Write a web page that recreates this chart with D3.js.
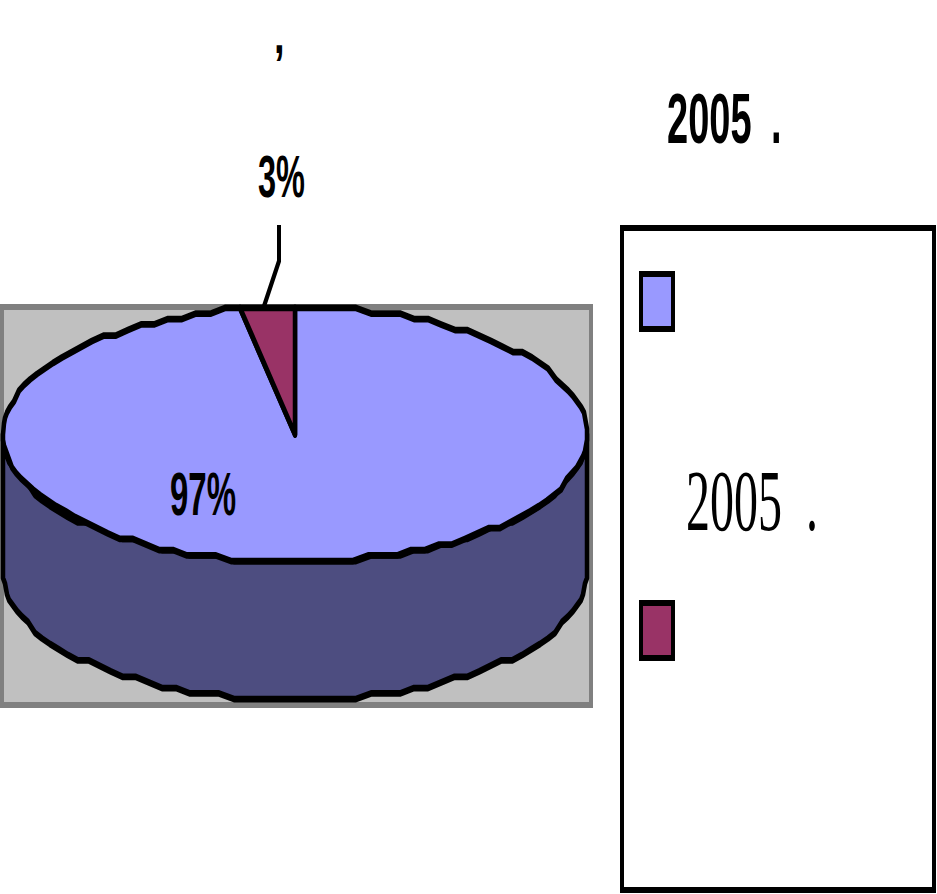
<!DOCTYPE html>
<html>
  <head>
    <meta charset="utf-8">
    <title>2005</title>
    <script src="https://d3js.org/d3.v7.min.js"></script>
    <style>
      html, body { margin: 0; padding: 0; background: #fff; }
      svg { display: block; }
      text { white-space: pre; fill: #000; }
      .bold { font-family: "Liberation Sans", sans-serif; font-weight: bold; }
      .serif { font-family: "Liberation Serif", serif; }
    </style>
  </head>
  <body>
    <div id="chart"></div>
    <script>
      // data
      var sliceNames = ["a", "b"];
      var sliceValues = [97, 3];
      var sliceLabels = ["97%", "3%"];
      var sliceColors = ["#9999ff", "#993366"];
      var sideColor = "#4d4d80";
      var titleText = "2005 .";
      var commaText = ",";

      var largura = 937, altura = 894;
      var esticaY = 1.5; // the whole picture is stretched vertically

      var svg = d3.select("#chart").append("svg")
        .attr("width", largura)
        .attr("height", altura);

      var g = svg.append("g").attr("transform", "scale(1," + esticaY + ")");

      function Y(v) { return v / esticaY; }

      // gray plot area
      g.append("rect")
        .attr("x", 2).attr("y", Y(307))
        .attr("width", 589).attr("height", Y(398))
        .attr("fill", "#c0c0c0")
        .attr("stroke", "#808080")
        .attr("stroke-width", 4);

      // pie projected on an ellipse
      var escalaX = d3.scaleLinear().domain([-1, 1]).range([3, 587]);
      var escalaY = d3.scaleLinear().domain([-1, 1]).range([Y(307), Y(562)]);
      var profundidade = Y(138);

      var pie = d3.pie().sort(null).value(function(d) { return d; });
      var arcos = pie(sliceValues);

      // outline is coarse, like the low resolution original
      var gradeY = Y(5.5), passo = Math.PI / 60;
      function ponto(a, dy) {
        var y = escalaY(-Math.cos(a));
        return [Math.round(escalaX(Math.sin(a))), Math.round(y / gradeY) * gradeY + (dy || 0)];
      }
      function amostra(a0, a1, dy) {
        var n = Math.max(1, Math.round((a1 - a0) / passo));
        return d3.range(n + 1).map(function(i) { return ponto(a0 + (a1 - a0) * i / n, dy); });
      }

      var linha = d3.line();

      // side wall
      var frente = amostra(Math.PI / 2, 3 * Math.PI / 2, 0);
      var fundo = amostra(Math.PI / 2, 3 * Math.PI / 2, profundidade);
      g.append("path")
        .attr("d", linha(fundo.concat(frente.slice().reverse())) + "Z")
        .attr("fill", sideColor)
        .attr("stroke", "#000")
        .attr("stroke-width", 4.5)
        .attr("stroke-linejoin", "round");

      // top slices
      g.selectAll("path.fatia")
        .data(arcos)
        .enter()
        .append("path")
          .attr("class", "fatia")
          .attr("fill", function(d, i) { return sliceColors[i]; })
          .attr("stroke", "#000")
          .attr("stroke-width", 4.5)
          .attr("stroke-linejoin", "round")
          .attr("d", function(d) {
            var centro = [escalaX(0), escalaY(0)];
            return linha([centro].concat(amostra(d.startAngle, d.endAngle))) + "Z";
          });

      // leader line of the small slice
      var meio = (arcos[1].startAngle + arcos[1].endAngle) / 2;
      g.append("path")
        .attr("d", linha([[279, Y(225)], [279, Y(261)], [escalaX(Math.sin(meio)) - 4, escalaY(-Math.cos(meio))]]))
        .attr("fill", "none")
        .attr("stroke", "#000")
        .attr("stroke-width", 4);

      // legend box
      g.append("rect")
        .attr("x", 622).attr("y", Y(228))
        .attr("width", 312).attr("height", Y(662))
        .attr("fill", "#fff")
        .attr("stroke", "#000")
        .attr("stroke-width", 4);

      var escalaLegenda = d3.scalePoint().domain(sliceNames).range([Y(301.5), Y(630.5)]);

      g.selectAll("rect.chave")
        .data(sliceNames)
        .enter()
        .append("rect")
          .attr("class", "chave")
          .attr("x", 641)
          .attr("y", function(d) { return escalaLegenda(d) - Y(27.5); })
          .attr("width", 32)
          .attr("height", Y(55))
          .attr("fill", function(d, i) { return sliceColors[i]; })
          .attr("stroke", "#000")
          .attr("stroke-width", 4);

      // texts are squeezed, each one has its own vertical scale
      function texto(str, x, y, tam, escala, classe, extra) {
        svg.append("text")
          .attr("class", classe)
          .attr("transform", "translate(" + x + "," + y + ") scale(1," + escala + ")")
          .attr("font-size", tam)
          .style("word-spacing", (extra || 0) + "px")
          .text(str);
      }

      texto(titleText, 667, 143, 38, 1.87, "bold", 9);
      texto(commaText, 274, 53, 38, 1.35, "bold");
      texto(sliceLabels[1], 258, 197, 32.5, 1.85, "bold");
      texto(sliceLabels[0], 170, 515, 33, 1.85, "bold");
      texto(titleText, 686, 530, 48, 1.8, "serif", 12);
    </script>
  </body>
</html>
